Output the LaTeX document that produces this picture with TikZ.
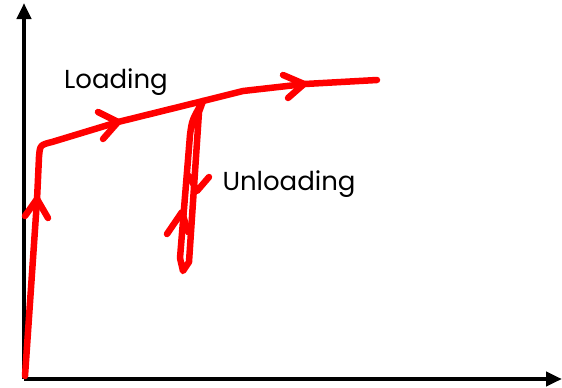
\documentclass[tikz,border=0pt]{standalone}
\usepackage{fontspec}
\setmainfont{Poppins}
\usetikzlibrary{arrows.meta}
\tikzset{
  axis/.style={line width=4.5pt, -{Triangle[length=16pt,width=14pt]}},
  curve/.style={red, line width=6.5pt, line cap=round, line join=round},
  lbl/.style={font=\fontsize{26}{28}\selectfont, inner sep=0pt, text=black}
}
\begin{document}
\begin{tikzpicture}[x=1pt,y=-1pt]
\useasboundingbox (0,0) rectangle (562,388);
% axes
\coordinate (O) at (24,379);
\coordinate (Ytop) at (24,3);
\coordinate (Xend) at (562,379);
\draw[axis] (O) -- (Ytop);
\draw[axis] (O) -- (Xend);
% loading curve
\draw[curve] (25,376) -- (37,200) -- (39,157) .. controls (40,145) .. (52,142)
  -- (118,122) -- (203,101) -- (243,91) -- (305,84) -- (377,80);
% unloading loop
\draw[curve] (203,101) .. controls (192,120) .. (190,135) -- (180,258) -- (183,271)
  -- (189,262) -- (199,112) -- (203,101);
% arrowheads
\draw[curve] (25,216) -- (37,199) -- (48,218);
\draw[curve] (98,112) -- (118,122) -- (103,139);
\draw[curve] (283,75) -- (304,84) -- (288,98);
\draw[curve] (189,176) -- (197,191) -- (209,177);
\draw[curve] (167,234) -- (182,212) -- (188,232);
% labels
\node[lbl] (load) at (116,82) {Loading};
\node[lbl] (unload) at (289,184) {Unloading};
\end{tikzpicture}
\end{document}
